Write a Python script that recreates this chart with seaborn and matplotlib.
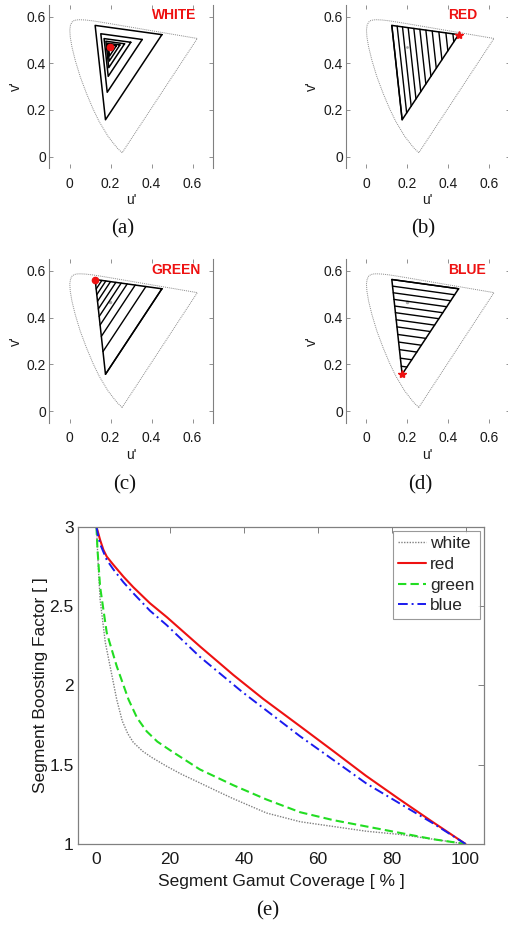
import numpy as np
import pandas as pd
import matplotlib
matplotlib.use("Agg")
import matplotlib.pyplot as plt
import seaborn as sns

# ---------------- data ----------------
# spectral locus (u', v')
locus_u = [0.2568, 0.2347, 0.2161, 0.1877, 0.1441, 0.1147, 0.0828, 0.0521, 0.0282,
           0.0119, 0.0035, 0.0014, 0.0046, 0.0123, 0.0231, 0.0360, 0.0501, 0.0792,
           0.1127, 0.1531, 0.2026, 0.2623, 0.3315, 0.4035, 0.5203, 0.6005, 0.6234, 0.2568]
locus_v = [0.0166, 0.0350, 0.0549, 0.0871, 0.1510, 0.2044, 0.2708, 0.3427, 0.4117,
           0.4698, 0.5131, 0.5432, 0.5638, 0.5770, 0.5837, 0.5861, 0.5868, 0.5856,
           0.5821, 0.5766, 0.5694, 0.5604, 0.5501, 0.5393, 0.5219, 0.5099, 0.5065, 0.0166]

primaries = ["R", "G", "B"]
prim_u = [0.4507, 0.1250, 0.1754]
prim_v = [0.5229, 0.5625, 0.1579]
white_uv = [0.1978, 0.4683]

scales_white = [1.0, 0.62, 0.40, 0.28, 0.19, 0.12]
scales_red = [1.0, 0.92, 0.84, 0.755, 0.67, 0.58, 0.49, 0.395, 0.295, 0.19, 0.085]
scales_green = [1.0, 0.76, 0.60, 0.48, 0.39, 0.31, 0.23, 0.16, 0.10, 0.05]
scales_blue = [1.0, 0.93, 0.86, 0.79, 0.72, 0.65, 0.575, 0.50, 0.42, 0.34, 0.26, 0.17, 0.085]

panel_titles = ["WHITE", "RED", "GREEN", "BLUE"]
panel_captions = ["(a)", "(b)", "(c)", "(d)"]

uv_ticks = [0, 0.2, 0.4, 0.6]
uv_ticklabels = ["0", "0.2", "0.4", "0.6"]

# bottom chart curves
white_x = [0, 0.5, 1.0, 2.4, 3.7, 5.5, 7.0, 8.5, 10, 12.5, 15, 19, 23, 28, 32.5, 37.1, 46.1,
           55.2, 64.2, 73.2, 82.2, 91.2, 100]
white_y = [3.0, 2.75, 2.54, 2.27, 2.12, 1.91, 1.775, 1.695, 1.64, 1.585, 1.545, 1.49, 1.44,
           1.385, 1.335, 1.285, 1.195, 1.14, 1.11, 1.08, 1.06, 1.03, 1.0]
red_x = [0, 0.37, 1.0, 1.9, 2.8, 4.6, 7.3, 10, 14.5, 19.1, 28.1, 37.1, 45.2, 55, 64.2, 73, 82.2, 91, 100]
red_y = [3.0, 2.969, 2.916, 2.853, 2.811, 2.759, 2.685, 2.618, 2.517, 2.429, 2.244, 2.065,
         1.914, 1.745, 1.585, 1.43, 1.28, 1.14, 1.0]
green_x = [0, 0.3, 1.0, 2.8, 5.5, 8.7, 11, 13.6, 16.5, 20, 24, 28, 37.1, 46.1, 55.2, 64.2,
           73.2, 82.2, 91.2, 100]
green_y = [3.0, 2.85, 2.62, 2.33, 2.12, 1.91, 1.795, 1.71, 1.645, 1.59, 1.53, 1.47, 1.37,
           1.28, 1.20, 1.15, 1.11, 1.07, 1.03, 1.0]
blue_x = [0, 0.4, 1.0, 2.8, 4.6, 7.3, 10, 14.5, 19, 28, 39.4, 55.1, 73.2, 91.2, 100]
blue_y = [3.0, 2.95, 2.89, 2.79, 2.73, 2.65, 2.58, 2.47, 2.38, 2.18, 1.96, 1.68, 1.38, 1.13, 1.0]

series_names = ["white", "red", "green", "blue"]
e_xticks = [0, 20, 40, 60, 80, 100]
e_yticks = [1, 1.5, 2, 2.5, 3]
e_yticklabels = ["1", "1.5", "2", "2.5", "3"]

# ---------------- style ----------------
sns.set_theme(style="white")
plt.rcParams["font.family"] = ["Liberation Sans", "DejaVu Sans"]
SPINE = "#808080"
TXT = "#1a1a1a"

fig = plt.figure(figsize=(5.08, 9.26), dpi=100)

P = np.column_stack([prim_u, prim_v])
W = np.array(white_uv)


def style_panel(ax):
    ax.set_xlim(-0.1, 0.7)
    ax.set_ylim(-0.05, 0.65)
    ax.set_xticks(uv_ticks)
    ax.set_xticklabels(uv_ticklabels)
    ax.set_yticks(uv_ticks)
    ax.set_yticklabels(uv_ticklabels)
    for s in ["top", "bottom"]:
        ax.spines[s].set_visible(False)
    for s in ["left", "right"]:
        ax.spines[s].set_visible(True)
        ax.spines[s].set_color(SPINE)
        ax.spines[s].set_linewidth(0.8)
    ax.tick_params(direction="in", length=3, width=0.6, color=SPINE,
                   top=True, right=True, bottom=True, left=True,
                   labelsize=10, labelcolor=TXT)
    ax.tick_params(axis="x", pad=6)
    ax.tick_params(axis="y", pad=2)
    ax.set_xlabel("u'", fontsize=10, labelpad=2, color=TXT)
    ax.set_ylabel("v'", fontsize=10, labelpad=3, color=TXT)
    ax.grid(False)


def draw_locus(ax):
    ax.plot(locus_u, locus_v, linestyle=(0, (1, 1)), color="#8a8a8a", lw=0.7, zorder=1)


def tri(ax, pts, lw=1.1):
    closed = np.vstack([pts, pts[:1]])
    ax.plot(closed[:, 0], closed[:, 1], color="black", lw=lw, zorder=3)


positions = [
    [0.0965, 0.8183, 0.3228, 0.1763],
    [0.6805, 0.8183, 0.3228, 0.1763],
    [0.0965, 0.5432, 0.3228, 0.1771],
    [0.6805, 0.5432, 0.3228, 0.1771],
]
axes = [fig.add_axes(p) for p in positions]

# (a) WHITE: nested triangles shrinking toward white point
ax = axes[0]
style_panel(ax)
draw_locus(ax)
for s in scales_white:
    tri(ax, W + s * (P - W))
ax.plot([W[0]], [W[1]], "o", color="#ee1111", ms=4.5, zorder=5)

R, G, B = P

# (b) RED: segments parallel to G-B edge, toward R
ax = axes[1]
style_panel(ax)
draw_locus(ax)
tri(ax, P)
for s in scales_red:
    a = R + s * (G - R)
    b = R + s * (B - R)
    ax.plot([a[0], b[0]], [a[1], b[1]], color="black", lw=1.0, zorder=3)
ax.plot([W[0]], [W[1]], ".", color="#aaaaaa", ms=2, zorder=2)
ax.plot([R[0]], [R[1]], "*", color="#ee1111", ms=6, zorder=5)

# (c) GREEN: segments parallel to R-B edge, toward G
ax = axes[2]
style_panel(ax)
draw_locus(ax)
tri(ax, P)
for s in scales_green:
    a = G + s * (R - G)
    b = G + s * (B - G)
    ax.plot([a[0], b[0]], [a[1], b[1]], color="black", lw=1.0, zorder=3)
ax.plot([W[0]], [W[1]], ".", color="#aaaaaa", ms=3, zorder=2)
ax.plot([G[0]], [G[1]], "o", color="#ee1111", ms=4.5, zorder=5)

# (d) BLUE: segments parallel to G-R edge, toward B
ax = axes[3]
style_panel(ax)
draw_locus(ax)
tri(ax, P)
for s in scales_blue:
    a = B + s * (G - B)
    b = B + s * (R - B)
    ax.plot([a[0], b[0]], [a[1], b[1]], color="black", lw=1.0, zorder=3)
ax.plot([W[0]], [W[1]], ".", color="#aaaaaa", ms=3, zorder=2)
ax.plot([B[0]], [B[1]], "*", color="#ee1111", ms=6, zorder=5)

for ax, t in zip(axes, panel_titles):
    ax.text(0.4, 0.605, t, color="#ee1111", fontweight="bold", fontsize=10,
            ha="left", va="center", zorder=6)

cap_pos = [(123 / 508, 1 - 229 / 926), (423 / 508, 1 - 229 / 926),
           (125 / 508, 1 - 485 / 926), (420 / 508, 1 - 485 / 926)]
for (x, y), c in zip(cap_pos, panel_captions):
    fig.text(x, y, c, ha="center", va="center", fontsize=15,
             family=["Liberation Serif", "DejaVu Serif"], color="#111111")

# (e) bottom chart
axe = fig.add_axes([0.1535, 0.0886, 0.7992, 0.3427])
df = pd.concat([
    pd.DataFrame({"x": white_x, "y": white_y, "series": "white"}),
    pd.DataFrame({"x": red_x, "y": red_y, "series": "red"}),
    pd.DataFrame({"x": green_x, "y": green_y, "series": "green"}),
    pd.DataFrame({"x": blue_x, "y": blue_y, "series": "blue"}),
], ignore_index=True)

palette = {"white": "#808080", "red": "#ee1111", "green": "#22dd22", "blue": "#1a1aee"}
dashes = {"white": (1, 1), "red": "", "green": (4, 2), "blue": (5, 2, 1, 2)}
widths = {"white": 1.0, "red": 1.5, "green": 1.5, "blue": 1.4}
for name in series_names:
    sub = df[df["series"] == name]
    sns.lineplot(data=sub, x="x", y="y", ax=axe, color=palette[name],
                 lw=widths[name], sort=False, estimator=None, label=name,
                 dashes=False)
for line, name in zip(axe.get_lines(), series_names):
    if dashes[name]:
        line.set_dashes(dashes[name])

axe.set_xlim(-5, 105)
axe.set_ylim(1, 3)
axe.set_xticks(e_xticks)
axe.set_yticks(e_yticks)
axe.set_yticklabels(e_yticklabels)
for s in axe.spines.values():
    s.set_visible(True)
    s.set_color(SPINE)
    s.set_linewidth(0.9)
axe.tick_params(direction="in", length=4, width=0.7, color=SPINE,
                top=True, right=True, labelsize=12.5, labelcolor=TXT)
axe.tick_params(axis="x", pad=5.5)
axe.tick_params(axis="y", pad=3)
axe.set_xlabel("Segment Gamut Coverage [ % ]", fontsize=12.5, labelpad=5, color=TXT)
axe.set_ylabel("Segment Boosting Factor [ ]", fontsize=12.5, labelpad=1, color=TXT)
axe.grid(False)

leg = axe.legend(loc="upper right", fontsize=12.5, frameon=True, fancybox=False,
                 borderaxespad=0.25, handlelength=1.6, handletextpad=0.25,
                 labelspacing=0.32, borderpad=0.3)
leg.get_frame().set_edgecolor(SPINE)
leg.get_frame().set_linewidth(0.8)
for h, name in zip(leg.get_lines(), series_names):
    if dashes[name]:
        h.set_dashes(dashes[name])

fig.text(268 / 508, 1 - 910.5 / 926, "(e)", ha="center", va="center", fontsize=15,
         family=["Liberation Serif", "DejaVu Serif"], color="#111111")

fig.savefig("out.png", dpi=100)
